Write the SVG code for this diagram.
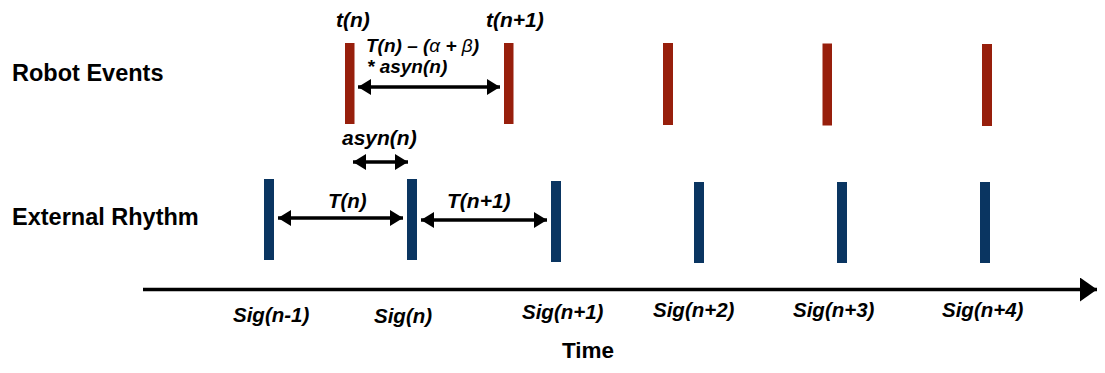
<svg xmlns="http://www.w3.org/2000/svg" width="1105" height="373" viewBox="0 0 1105 373">
<style>
text{font-family:"Liberation Sans",Arial,sans-serif;font-weight:bold;fill:#000}
.lbl{font-size:23.5px}
.it{font-style:italic}
.sig{font-size:20.5px;font-style:italic}
.red{fill:#971F0C}
.blue{fill:#0A3561}
.conn{stroke:#000;stroke-width:3.6;fill:none}
.nw{font-weight:normal}
</style>
<defs>
<marker id="ah" markerUnits="userSpaceOnUse" markerWidth="15" markerHeight="18" refX="13" refY="8" orient="auto-start-reverse">
<path d="M0,0 L13,8 L0,16 Z" fill="#000"/>
</marker>
<marker id="ahBig" markerUnits="userSpaceOnUse" markerWidth="20" markerHeight="26" refX="17" refY="12" orient="auto">
<path d="M0,0 L17,12 L0,24 Z" fill="#000"/>
</marker>
</defs>

<g id="labels">
<text class="lbl" x="12" y="81">Robot Events</text>
<text class="lbl" x="12" y="225">External Rhythm</text>
<text class="lbl" x="562" y="358" style="font-size:22.5px">Time</text>
</g>

<g id="robot-events">
<rect id="t0" class="red" x="345" y="43" width="9.5" height="81"/>
<rect id="t1" class="red" x="504" y="43" width="9.5" height="81"/>
<rect id="t2" class="red" x="663" y="43" width="10" height="82"/>
<rect id="t3" class="red" x="822.5" y="43.5" width="9.5" height="82"/>
<rect id="t4" class="red" x="982" y="44" width="10" height="82"/>
</g>

<g id="external-rhythm">
<rect id="s0" class="blue" x="264" y="179" width="10" height="81"/>
<rect id="s1" class="blue" x="407" y="179" width="10" height="81"/>
<rect id="s2" class="blue" x="551" y="181" width="10" height="81"/>
<rect id="s3" class="blue" x="694" y="182" width="10" height="81"/>
<rect id="s4" class="blue" x="837" y="182" width="10" height="81"/>
<rect id="s5" class="blue" x="980" y="182" width="10" height="81"/>
</g>

<g id="connectors">
<line class="conn" x1="358" y1="87" x2="500" y2="87" marker-start="url(#ah)" marker-end="url(#ah)"/>
<line class="conn" x1="353" y1="162" x2="408" y2="162" marker-start="url(#ah)" marker-end="url(#ah)"/>
<line class="conn" x1="278" y1="218" x2="403" y2="218" marker-start="url(#ah)" marker-end="url(#ah)"/>
<line class="conn" x1="421" y1="220" x2="547" y2="220" marker-start="url(#ah)" marker-end="url(#ah)"/>
<line class="conn" x1="143" y1="289.5" x2="1097" y2="289.5" stroke-width="4.5" marker-end="url(#ahBig)"/>
</g>

<g id="event-labels">
<text class="it" x="336" y="27" style="font-size:21px">t(n)</text>
<text class="it" x="486" y="27" style="font-size:21px">t(n+1)</text>
<text class="it" x="366" y="52" style="font-size:19px">T(n) – (<tspan class="nw">α</tspan> + <tspan class="nw">β</tspan>)</text>
<text class="it" x="367" y="73" style="font-size:19px">* asyn(n)</text>
<text class="it" x="342" y="145" style="font-size:21px">asyn(n)</text>
<text class="it" x="328" y="208" style="font-size:20.5px">T(n)</text>
<text class="it" x="447" y="208" style="font-size:21px">T(n+1)</text>
</g>

<g id="signal-labels">
<text class="sig" x="233" y="322">Sig(n-1)</text>
<text class="sig" x="374" y="323">Sig(n)</text>
<text class="sig" x="522" y="319">Sig(n+1)</text>
<text class="sig" x="653" y="317">Sig(n+2)</text>
<text class="sig" x="793" y="317">Sig(n+3)</text>
<text class="sig" x="942" y="317">Sig(n+4)</text>
</g>
</svg>
